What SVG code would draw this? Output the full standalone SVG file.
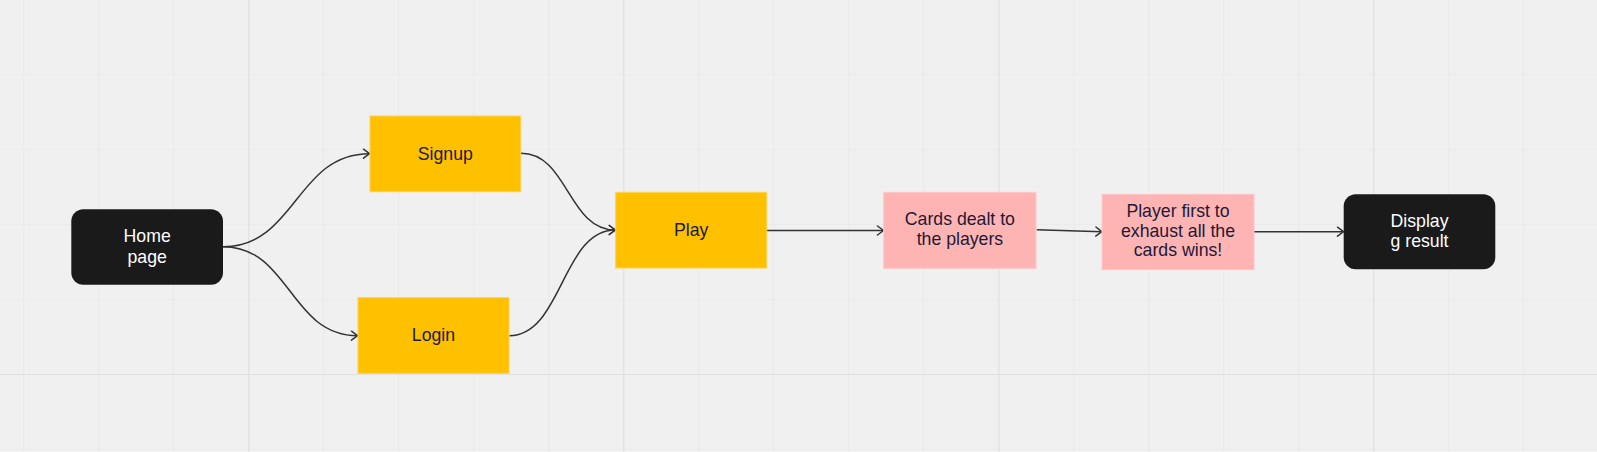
<svg xmlns="http://www.w3.org/2000/svg" width="1597" height="452" viewBox="0 0 1597 452">
  <defs>
    <pattern id="minor" x="23.3" y="-1" width="75" height="75" patternUnits="userSpaceOnUse">
      <path d="M0 0V75M0 0H75" fill="none" stroke="#e5e5e5" stroke-width="1.2"/>
    </pattern>
    <pattern id="major" x="248.3" y="-1" width="375" height="375" patternUnits="userSpaceOnUse">
      <path d="M0 0V375M0 0H375" fill="none" stroke="#dddddd" stroke-width="1.5"/>
    </pattern>
    <marker id="arrow" viewBox="0 0 12 12" refX="10.5" refY="6" markerWidth="12" markerHeight="12" markerUnits="userSpaceOnUse" orient="auto">
      <path d="M4.5 1.5L10.5 6L4.5 10.5" fill="none" stroke="#333" stroke-width="1.5" stroke-linecap="round" stroke-linejoin="round"/>
    </marker>
    <style>
      .lbl { font-family: "Liberation Sans", Arial, sans-serif; font-size: 17.7px; text-anchor: middle; }
      .dark { fill: #1a1a1a; }
      .dark-t { fill: #ffffff; }
      .yellow { fill: #ffc000; stroke: #ffd24d; stroke-width: 1; }
      .pink { fill: #ffb4b4; stroke: #ffc6c6; stroke-width: 1; }
      .ink { fill: #1c1a36; }
      .edge { fill: none; stroke: #333333; stroke-width: 1.5; marker-end: url(#arrow); }
    </style>
  </defs>
  <rect width="1597" height="452" fill="#f0f0f0"/>
  <rect width="1597" height="452" fill="url(#minor)"/>
  <rect width="1597" height="452" fill="url(#major)"/>

  <g id="connectors">
    <path class="edge" d="M223 246.7C296 246.7 296 153.7 369.5 153.7"/>
    <path class="edge" d="M223 246.7C290 246.7 290 335.7 357.5 335.7"/>
    <path class="edge" d="M521 153.3C568 153.3 568 230 615.3 230"/>
    <path class="edge" d="M509.3 335.7C562 335.7 562 230 615.3 230"/>
    <path class="edge" d="M764 230.5L883.5 230.5"/>
    <path class="edge" d="M1036.7 229.7L1101.8 231.7"/>
    <path class="edge" d="M1254 231.7L1343.5 231.7"/>
  </g>

  <g id="home">
    <rect class="dark" x="71.3" y="209.3" width="151.7" height="75.4" rx="12"/>
    <text class="lbl dark-t" x="147.2" y="242">Home</text>
    <text class="lbl dark-t" x="147.2" y="262.5">page</text>
  </g>
  <g id="signup">
    <rect class="yellow" x="370" y="116" width="150.7" height="75.7"/>
    <text class="lbl ink" x="445.3" y="159.6">Signup</text>
  </g>
  <g id="login">
    <rect class="yellow" x="358" y="297.7" width="151" height="75.6"/>
    <text class="lbl ink" x="433.5" y="341">Login</text>
  </g>
  <g id="play">
    <rect class="yellow" x="615.7" y="192.3" width="151" height="75.7"/>
    <text class="lbl ink" x="691.2" y="235.5">Play</text>
  </g>
  <g id="cards">
    <rect class="pink" x="883.7" y="192.3" width="152.3" height="76"/>
    <text class="lbl ink" x="959.9" y="225">Cards dealt to</text>
    <text class="lbl ink" x="959.9" y="245">the players</text>
  </g>
  <g id="winner">
    <rect class="pink" x="1102" y="194.3" width="152" height="75.4"/>
    <text class="lbl ink" x="1178" y="216.7">Player first to</text>
    <text class="lbl ink" x="1178" y="236.5">exhaust all the</text>
    <text class="lbl ink" x="1178" y="256.3">cards wins!</text>
  </g>
  <g id="display">
    <rect class="dark" x="1343.7" y="194.3" width="151.6" height="75" rx="12"/>
    <text class="lbl dark-t" x="1419.5" y="226.7">Display</text>
    <text class="lbl dark-t" x="1419.5" y="246.7">g result</text>
  </g>
</svg>
